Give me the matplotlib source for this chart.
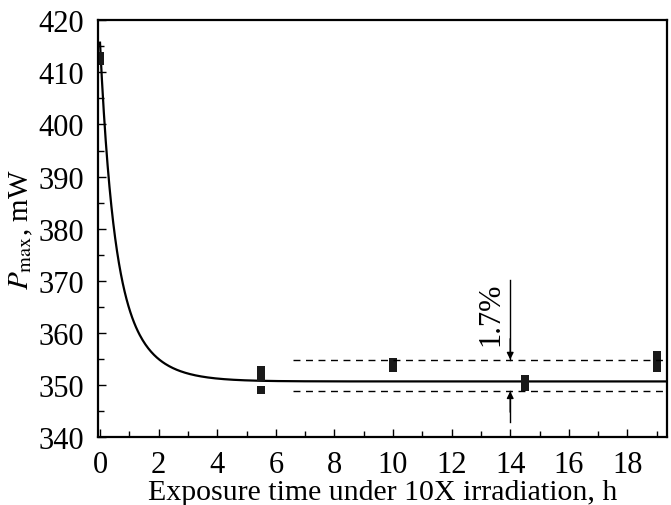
import numpy as np
import matplotlib.pyplot as plt
from matplotlib.ticker import MultipleLocator

# measured points (several readings at each exposure time)
time_h = [0, 0, 5.5, 5.5, 5.5, 10, 10, 14.5, 14.5, 19, 19, 19]
pmax_mw = [412.1, 413.2, 349.0, 351.5, 352.9, 353.2, 354.5, 349.6, 351.1,
           353.3, 354.5, 355.7]

# fitted decay: P = p_inf + a1*exp(-t/tau1) + a2*exp(-t/tau2)
p_inf = 350.7
a1, tau1 = 35.0, 0.4
a2, tau2 = 30.0, 1.0

# spread band and annotation
band_upper = 354.9
band_lower = 348.8
band_start = 6.6
arrow_x = 14.0
label_pct = "1.7%"

plt.rcParams['font.family'] = ['Liberation Serif', 'DejaVu Serif']
plt.rcParams['mathtext.fontset'] = 'stix'
plt.rcParams['font.size'] = 22

fig = plt.figure(figsize=(6.71, 5.06), dpi=100)
ax = fig.add_axes([0.146, 0.134, 0.848, 0.824])

xmin, xmax = -0.07, 19.35
t = np.linspace(0, xmax, 600)
fit = p_inf + a1 * np.exp(-t / tau1) + a2 * np.exp(-t / tau2)
ax.plot(t, fit, color='black', lw=1.6)

ax.plot(time_h, pmax_mw, 's', color='#1a1a1a', markersize=5.8, markeredgewidth=0)

ax.hlines([band_upper, band_lower], band_start, xmax, colors='black',
          linestyles=(0, (5, 4)), lw=1.0)

# arrows marking the 1.7 % spread
ax.plot([arrow_x, arrow_x], [370.2, band_upper], color='black', lw=1.0)
ax.annotate('', xy=(arrow_x, band_upper), xytext=(arrow_x, band_upper + 4),
            arrowprops=dict(arrowstyle='-|>', color='black', lw=1.0,
                            mutation_scale=10, shrinkA=0, shrinkB=0))
ax.plot([arrow_x, arrow_x], [343.0, band_lower], color='black', lw=1.0)
ax.annotate('', xy=(arrow_x, band_lower), xytext=(arrow_x, band_lower - 4),
            arrowprops=dict(arrowstyle='-|>', color='black', lw=1.0,
                            mutation_scale=10, shrinkA=0, shrinkB=0))
ax.text(arrow_x - 0.15, 363.8, label_pct, rotation=90, ha='right', va='center',
        fontsize=22)

ax.set_xlim(xmin, xmax)
ax.set_ylim(340, 420)
ax.xaxis.set_major_locator(MultipleLocator(2))
ax.xaxis.set_minor_locator(MultipleLocator(1))
ax.yaxis.set_major_locator(MultipleLocator(10))
ax.yaxis.set_minor_locator(MultipleLocator(5))
ax.tick_params(which='both', direction='in', top=False, right=False, width=1.0)
ax.tick_params(which='major', length=6)
ax.tick_params(axis='y', which='major', pad=10)
ax.tick_params(axis='x', which='major', pad=9)
ax.tick_params(which='minor', length=4)
for s in ax.spines.values():
    s.set_linewidth(1.6)

ax.set_xlabel('Exposure time under 10X irradiation, h', fontsize=21.5)
ax.xaxis.set_label_coords(0.5, -0.1)
ax.set_ylabel(r'$P_{\rm max}$, mW', fontsize=21)
ax.yaxis.set_label_coords(-0.11, 0.5)

fig.savefig('out.png', dpi=100)
